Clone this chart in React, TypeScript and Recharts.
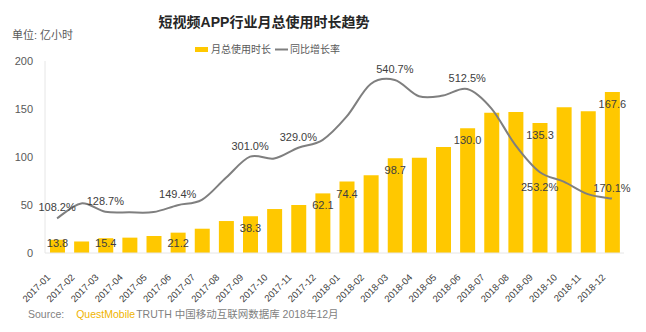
import React from 'react'
import {
  ComposedChart,
  Bar,
  Line,
  XAxis,
  YAxis,
  LabelList,
} from 'recharts'

const months = [
  '2017-01', '2017-02', '2017-03', '2017-04', '2017-05', '2017-06',
  '2017-07', '2017-08', '2017-09', '2017-10', '2017-11', '2017-12',
  '2018-01', '2018-02', '2018-03', '2018-04', '2018-05', '2018-06',
  '2018-07', '2018-08', '2018-09', '2018-10', '2018-11', '2018-12',
]

// 月总使用时长 (亿小时)
const usageHours = [
  13.8, 12.0, 15.4, 16.0, 17.7, 21.2, 25.3, 33.3, 38.3, 45.8, 50.0, 62.1,
  74.4, 81.0, 98.7, 99.2, 110.4, 130.0, 146.0, 147.0, 135.3, 151.7, 147.6, 167.6,
]

// 同比增长率 (%)
const growthRate = [
  108.2, 155, 128.7, 127, 128, 149.4, 166, 235, 301.0, 295, 329.0, 353,
  426, 528, 540.7, 490, 492, 512.5, 452, 337, 253.2, 223, 184, 170.1,
]

const barLabelIdx = [0, 2, 5, 8, 11, 12, 14, 17, 20, 23]
const lineLabelIdx = [0, 2, 5, 8, 10, 14, 17, 20, 23]
const lineLabelBelow = [20]

const yTicks = [0, 50, 100, 150, 200]

const data = months.map((m, i) => ({
  month: m,
  usage: usageHours[i],
  growth: growthRate[i],
}))

const FONT = '"Liberation Sans", "Noto Sans CJK SC", sans-serif'
const YELLOW = '#FFC800'
const GRAY = '#7f7f7f'

// excel-style smoothed line (catmull-rom as cubic beziers)
function smoothCurve(context: any) {
  let pts: number[][] = []
  return {
    areaStart() {},
    areaEnd() {},
    lineStart() {
      pts = []
    },
    point(x: number, y: number) {
      pts.push([+x, +y])
    },
    lineEnd() {
      if (!pts.length) return
      context.moveTo(pts[0][0], pts[0][1])
      for (let i = 0; i < pts.length - 1; i++) {
        const p0 = pts[Math.max(i - 1, 0)]
        const p1 = pts[i]
        const p2 = pts[i + 1]
        const p3 = pts[Math.min(i + 2, pts.length - 1)]
        context.bezierCurveTo(
          p1[0] + (p2[0] - p0[0]) / 6,
          p1[1] + (p2[1] - p0[1]) / 6,
          p2[0] - (p3[0] - p1[0]) / 6,
          p2[1] - (p3[1] - p1[1]) / 6,
          p2[0],
          p2[1]
        )
      }
    },
  }
}

function BarValue(props: any) {
  const { x, y, width, value, index } = props
  if (!barLabelIdx.includes(index)) return null
  const cy = Math.min(y + 12, 243)
  return (
    <text
      x={x + width / 2}
      y={cy + 4}
      textAnchor="middle"
      fontSize={11}
      fill="#404040"
      fontFamily={FONT}
    >
      {value.toFixed(1)}
    </text>
  )
}

function LineValue(props: any) {
  const { x, y, value, index } = props
  if (!lineLabelIdx.includes(index)) return null
  const below = lineLabelBelow.includes(index)
  return (
    <text
      x={x}
      y={below ? y + 19 : y - 7}
      textAnchor="middle"
      fontSize={11}
      fill="#404040"
      fontFamily={FONT}
    >
      {value.toFixed(1)}%
    </text>
  )
}

function MonthTick(props: any) {
  const { x, y, payload } = props
  return (
    <g transform={`translate(${x - 6},${y + 17})`}>
      <text
        x={0}
        y={0}
        textAnchor="end"
        transform="rotate(-45)"
        fontSize={9.5}
        fill="#404040"
        fontFamily={FONT}
      >
        {payload.value}
      </text>
    </g>
  )
}

function ChartLegend() {
  return (
    <g fontFamily={FONT} fontSize={10} fill="#595959">
      <rect x={195} y={47} width={13} height={5} fill={YELLOW} />
      <text x={211} y={53}>月总使用时长</text>
      <line x1={275} y1={49.5} x2={288} y2={49.5} stroke={GRAY} strokeWidth={2} />
      <text x={290} y={53}>同比增长率</text>
    </g>
  )
}

export default function App() {
  return (
    <div style={{ position: 'fixed', left: 0, top: 0, width: 646, height: 332, background: '#fff' }}>
      <ComposedChart
        width={646}
        height={332}
        data={data}
        margin={{ top: 61, right: 22, bottom: 49, left: 0 }}
      >
        <text x={264} y={27} textAnchor="middle" fontSize={14} fontWeight="bold" fill="#262626" fontFamily={FONT}>
          短视频APP行业月总使用时长趋势
        </text>
        <text x={12} y={39} fontSize={11} fill="#595959" fontFamily={FONT}>
          单位: 亿小时
        </text>
        <ChartLegend />
        <XAxis
          dataKey="month"
          height={30}
          interval={0}
          tickLine={false}
          axisLine={{ stroke: '#e6e6e6' }}
          tick={<MonthTick />}
        />
        <YAxis
          yAxisId="left"
          width={45}
          domain={[0, 200]}
          ticks={yTicks}
          tickLine={false}
          tickSize={0}
          tickMargin={12}
          axisLine={{ stroke: '#e6e6e6' }}
          tick={{ fontSize: 11, fill: '#595959', fontFamily: FONT }}
        />
        <YAxis yAxisId="right" orientation="right" domain={[0, 600]} hide />
        <Bar yAxisId="left" dataKey="usage" fill={YELLOW} barSize={15} isAnimationActive={false}>
          <LabelList dataKey="usage" content={<BarValue />} />
        </Bar>
        <Line
          yAxisId="right"
          type={smoothCurve as any}
          dataKey="growth"
          stroke={GRAY}
          strokeWidth={2}
          dot={false}
          isAnimationActive={false}
        >
          <LabelList dataKey="growth" content={<LineValue />} />
        </Line>
        <text x={28} y={318} fontSize={10.5} fill="#7f7f7f" fontFamily={FONT}>
          Source:
          <tspan dx={12} fill="#F0B400">QuestMobile</tspan>
          <tspan dx={1}>TRUTH 中国移动互联网数据库 2018年12月</tspan>
        </text>
      </ComposedChart>
    </div>
  )
}
